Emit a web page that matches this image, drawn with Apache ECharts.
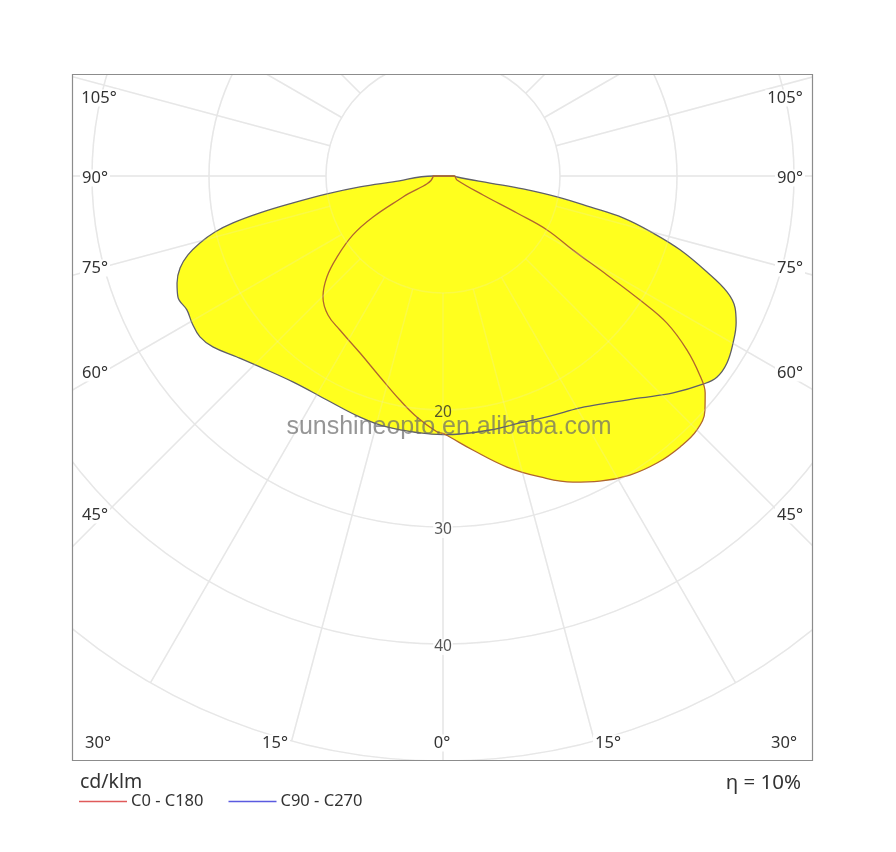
<!DOCTYPE html>
<html>
<head>
<meta charset="utf-8">
<title>Polar intensity diagram</title>
<style>
  html, body { margin: 0; padding: 0; background: #fff; }
  #main { width: 896px; height: 852px; }
</style>
<script src="https://cdn.jsdelivr.net/npm/echarts@6/dist/echarts.min.js"></script>
</head>
<body>
<div id="main"></div>
<script>
// C0 - C180 plane: gamma angle (negative = left of nadir) and cd/klm
var c0Angles = [-180, -90, -84.3, -62.3, -59.6, -56.8, -52.6, -49, -44.8, -39.6, -33.8, -25.1, -17.4, -10.9, -6.2, -1.3,
    0, 1.5, 6.2, 12.4, 17.9, 23, 27.2, 32, 36.7, 41.2, 45, 48.2, 50.4, 52.2, 54.5, 56.7, 57.8, 58.9, 60.3, 62.6, 63.4, 64.6, 74.1, 90, 180];
var c0Values = [0, 0.85, 0.86, 3.86, 6.93, 9.2, 11.4, 13.15, 14.56, 15.42, 15.84, 16.71, 18, 19.5, 20.72, 21.89,
    22, 22.32, 23.56, 25.47, 27.03, 28.42, 29.32, 30.14, 30.6, 30.77, 30.7, 30.03, 29.08, 27.78, 25.62, 22.9, 19.9, 16.37, 12.79, 10.02, 7.07, 3.79, 1.24, 0.95, 0];

// C90 - C270 plane
var c90Angles = [-180, -90, -83.2, -82.5, -81.2, -79.8, -78.6, -77.4, -76.2, -74.6, -72.8, -70.7, -68.1, -65.5, -62.4, -59.6, -56.5, -53.4, -48.7,
    -43.8, -36.1, -27.4, -19, -12.6, -5.1, 0, 3.8, 10.5, 17.3, 24, 30.6, 35.8, 41.6, 46.7, 51.3, 53.7, 56.6, 60.1, 63.4, 65.7, 67.8, 70,
    72.7, 74.8, 76.9, 78.1, 79.6, 80.8, 81.5, 85.9, 90, 180];
var c90Values = [0, 0.85, 4.31, 7.16, 10.03, 13.03, 15.96, 18.39, 20.07, 21.55, 22.82, 23.81, 24.5, 24.9, 24.7, 24.86, 24.91, 24.5, 23.44,
    22.61, 21.78, 21.56, 21.79, 21.98, 22.05, 22.1, 22.1, 22.08, 22.11, 22.46, 23.03, 23.93, 25.37, 27.03, 28.46, 29.04, 29.06, 28.6, 28.02, 27.39, 26.22, 24.01,
    21.22, 18.6, 15.8, 12.84, 9.91, 6.93, 4.06, 1.2, 0.95, 0];

var radiusTicks = [20, 30, 40];
var leftAngleLabels = ['105°', '90°', '75°', '60°', '45°', '30°'];
var bottomAngleLabels = ['15°', '0°', '15°'];
var rightAngleLabels = ['105°', '90°', '75°', '60°', '45°', '30°'];
var seriesNames = ['C0 - C180', 'C90 - C270'];

var cx = 443, cy = 176, outerR = 585, innerR = 117;
var frame = { left: 72, top: 74, right: 812, bottom: 760 };
var gridColor = '#e8e8e8';
var gridOnFill = 'rgba(228,228,228,0.2)';
var textColor = '#333';
var fontName = '"Noto Sans", sans-serif';

function zipRows(angles, values) {
    return angles.map(function (a, i) { return [values[i], a]; });
}

// every grid layer is its own polar, circles from the centre, spokes only outside r = 10
function polarOf(r0) {
    return { center: [cx, cy], radius: [r0, outerR] };
}
function angleAxisOf(index, spokeColor, z) {
    return {
        polarIndex: index, type: 'value', min: -180, max: 180, interval: 15,
        startAngle: 90, clockwise: false, z: z,
        axisLine: { show: false }, axisTick: { show: false }, axisLabel: { show: false },
        minorTick: { show: false },
        splitLine: { show: !!spokeColor, lineStyle: { color: spokeColor || '#000', width: 1.5 } }
    };
}
function radiusAxisOf(index, min, circleColor, z) {
    return {
        polarIndex: index, type: 'value', min: min, max: 50, interval: 10, z: z,
        axisLine: { show: false }, axisTick: { show: false }, axisLabel: { show: false },
        splitLine: { show: !!circleColor, lineStyle: { color: circleColor || '#000', width: 1.5 } }
    };
}

function text(str, x, y, size, align, color, extra) {
    return {
        type: 'text', z: 12, x: x, y: y, silent: true,
        style: Object.assign({
            text: str, fill: color || textColor, font: size + 'px ' + fontName,
            textAlign: align || 'center', textVerticalAlign: 'middle'
        }, extra || {})
    };
}
function tickText(str, x, y) {
    return text(str, x, y, 16.5, 'center', textColor, { backgroundColor: '#fff', padding: [0, 2, 0, 2] });
}

var leftY = [98, 178, 268, 373, 515, 743];
var leftX = [99, 95, 95, 95, 95, 98];
var rightX = [785, 790, 790, 790, 790, 784];
var bottomX = [275, 442, 608];

var graphics = [
    // mask everything that runs out of the frame
    { type: 'rect', z: 10, silent: true, shape: { x: 0, y: 0, width: 896, height: frame.top }, style: { fill: '#fff' } },
    { type: 'rect', z: 10, silent: true, shape: { x: 0, y: frame.bottom, width: 896, height: 852 - frame.bottom }, style: { fill: '#fff' } },
    { type: 'rect', z: 10, silent: true, shape: { x: 0, y: 0, width: frame.left, height: 852 }, style: { fill: '#fff' } },
    { type: 'rect', z: 10, silent: true, shape: { x: frame.right, y: 0, width: 896 - frame.right, height: 852 }, style: { fill: '#fff' } },
    {
        type: 'rect', z: 11, silent: true,
        shape: { x: frame.left + 0.5, y: frame.top + 0.5, width: frame.right - frame.left, height: frame.bottom - frame.top },
        style: { fill: 'none', stroke: '#8c8c8c', lineWidth: 1.2 }
    }
];
leftAngleLabels.forEach(function (t, i) { graphics.push(tickText(t, leftX[i], leftY[i])); });
rightAngleLabels.forEach(function (t, i) { graphics.push(tickText(t, rightX[i], leftY[i])); });
bottomAngleLabels.forEach(function (t, i) { graphics.push(tickText(t, bottomX[i], 743)); });
graphics.push(text('cd/klm', 80, 782, 19.5, 'left'));
graphics.push(text('η = 10%', 801, 783, 20.5, 'right'));
graphics.push(text('sunshineopto.en.alibaba.com', 449, 427, 25, 'center', 'rgba(105,105,105,0.7)', { font: '25px "Liberation Sans", Arial, sans-serif' }));

var chart = echarts.init(document.getElementById('main'), null, { renderer: 'canvas' });

function curve(name, angles, values, color) {
    return {
        name: name, type: 'line', coordinateSystem: 'polar', polarIndex: 0, z: 2,
        data: zipRows(angles, values),
        symbol: 'none', smooth: 0.4, silent: true,
        lineStyle: { color: color, width: 1.3 },
        itemStyle: { color: color },
        areaStyle: { color: '#ffff1e', opacity: 1 }
    };
}

chart.setOption({
    animation: false,
    backgroundColor: '#fff',
    tooltip: { show: false },
    polar: [polarOf(0), polarOf(innerR), polarOf(0), polarOf(innerR)],
    angleAxis: [
        angleAxisOf(0, null, 0),
        angleAxisOf(1, gridColor, 0),
        angleAxisOf(2, null, 3),
        angleAxisOf(3, gridOnFill, 3)
    ],
    radiusAxis: [
        radiusAxisOf(0, 0, gridColor, 0),
        radiusAxisOf(1, 10, null, 0),
        radiusAxisOf(2, 0, gridOnFill, 3),
        radiusAxisOf(3, 10, null, 3)
    ],
    legend: {
        left: 74, top: 788, z: 20, itemWidth: 48, itemHeight: 1.5, itemGap: 25,
        selectedMode: false,
        textStyle: { color: textColor, fontSize: 16.5, fontFamily: fontName, padding: [3, 0, 0, -1] },
        data: [
            { name: seriesNames[0], icon: 'rect', itemStyle: { color: '#e05a5a', borderWidth: 0 } },
            { name: seriesNames[1], icon: 'rect', itemStyle: { color: '#5a5ae0', borderWidth: 0 } }
        ]
    },
    graphic: { elements: graphics },
    series: [
        curve(seriesNames[1], c90Angles, c90Values, '#5f5f68'),
        curve(seriesNames[0], c0Angles, c0Values, '#b0652f'),
        {
            name: 'radius labels', type: 'scatter', coordinateSystem: 'polar', polarIndex: 0, z: 5,
            symbolSize: 0, silent: true,
            data: radiusTicks.map(function (r) {
                return { value: [r, 0], label: { backgroundColor: r > 20 ? '#fff' : 'transparent' } };
            }),
            label: {
                show: true, position: 'inside', offset: [0, 3], color: '#2a2a2a', fontSize: 15.5, fontFamily: fontName,
                padding: [0, 1, 0, 1],
                formatter: function (p) { return String(p.value[0]); }
            }
        }
    ]
});
</script>
</body>
</html>
